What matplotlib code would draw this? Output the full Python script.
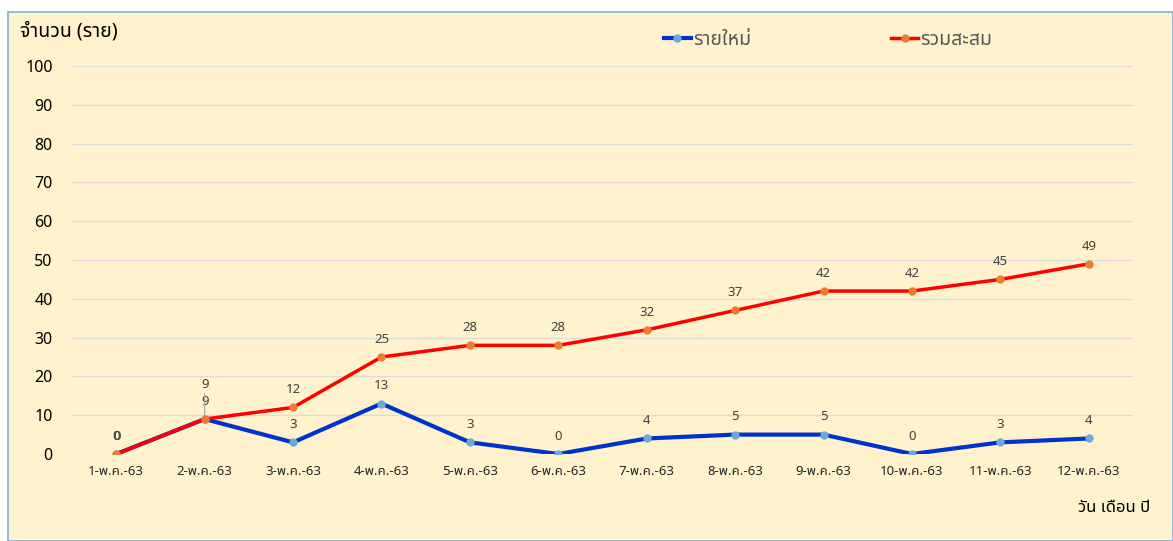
import matplotlib
matplotlib.use('Agg')
import matplotlib.pyplot as plt
from matplotlib.patches import Rectangle

plt.rcParams['font.family'] = ['Noto Sans', 'Noto Sans Thai', 'DejaVu Sans']

dates = ['1-พ.ค.-63', '2-พ.ค.-63', '3-พ.ค.-63', '4-พ.ค.-63', '5-พ.ค.-63', '6-พ.ค.-63',
         '7-พ.ค.-63', '8-พ.ค.-63', '9-พ.ค.-63', '10-พ.ค.-63', '11-พ.ค.-63', '12-พ.ค.-63']
new_cases = [0, 9, 3, 13, 3, 0, 4, 5, 5, 0, 3, 4]
total_cases = [0, 9, 12, 25, 28, 28, 32, 37, 42, 42, 45, 49]
y_ticks = [0, 10, 20, 30, 40, 50, 60, 70, 80, 90, 100]

bg = '#FFF2CC'
fig = plt.figure(figsize=(11.73, 5.41), dpi=100)
fig.patch.set_facecolor('white')
fig.add_artist(Rectangle((8 / 1173, 0), 1 - 8 / 1173, 1 - 12 / 541, transform=fig.transFigure,
                         facecolor=bg, edgecolor='#7FAEDC', linewidth=1.2, zorder=-10))

ax = fig.add_axes([72 / 1173, 1 - 454 / 541, (1133 - 72) / 1173, (454 - 66) / 541])
ax.set_facecolor('none')
x = list(range(len(dates)))

ax.plot(x, new_cases, color='#0033CC', lw=3, marker='o', ms=5,
        mfc='#6FA8DC', mec='#6FA8DC', label='รายใหม่', zorder=3)
ax.plot(x, total_cases, color='#FF0000', lw=2.5, marker='o', ms=5,
        mfc='#ED7D31', mec='#ED7D31', label='รวมสะสม', zorder=4)

# data labels
for i, v in enumerate(new_cases):
    ax.annotate(str(v), (i, v), xytext=(0, 8), textcoords='offset points',
                ha='center', va='bottom', fontsize=9.5, color='#404040')
for i, v in enumerate(total_cases):
    if i == 1:
        ax.annotate(str(v), (i, v), xytext=(0, 20), textcoords='offset points',
                    ha='center', va='bottom', fontsize=9.5, color='#404040',
                    arrowprops=dict(arrowstyle='-', color='#A6A6A6', lw=0.8, shrinkA=0, shrinkB=0))
    else:
        ax.annotate(str(v), (i, v), xytext=(0.3 if i == 0 else 0, 8), textcoords='offset points',
                    ha='center', va='bottom', fontsize=9.5, color='#404040')

ax.set_xlim(-0.5, len(dates) - 0.5)
ax.set_ylim(0, 100)
ax.set_yticks(y_ticks)
ax.set_xticks(x)
ax.set_xticklabels(dates)
ax.tick_params(axis='y', length=0, pad=14, labelsize=11.5, labelcolor='#000000')
ax.tick_params(axis='x', length=0, pad=8, labelsize=9.5, labelcolor='#262626')
ax.grid(True, axis='y', color='#DCDCDC', lw=1)
ax.set_axisbelow(True)
for s in ax.spines.values():
    s.set_visible(False)

fig.text(20 / 1173, 1 - 31 / 541, 'จำนวน (ราย)', fontsize=14, ha='left', va='center', color='#000000')
fig.text(1150 / 1173, 1 - 508 / 541, 'วัน เดือน ปี', fontsize=12, ha='right', va='center', color='#000000')

leg = ax.legend(loc='center', bbox_to_anchor=(828 / 1173, 1 - 40 / 541), bbox_transform=fig.transFigure,
                ncol=2, frameon=False, fontsize=14, handlelength=1.4, handletextpad=0.1,
                columnspacing=7.2, labelcolor='#595959')

fig.savefig('out.png', dpi=100, facecolor=fig.get_facecolor())
